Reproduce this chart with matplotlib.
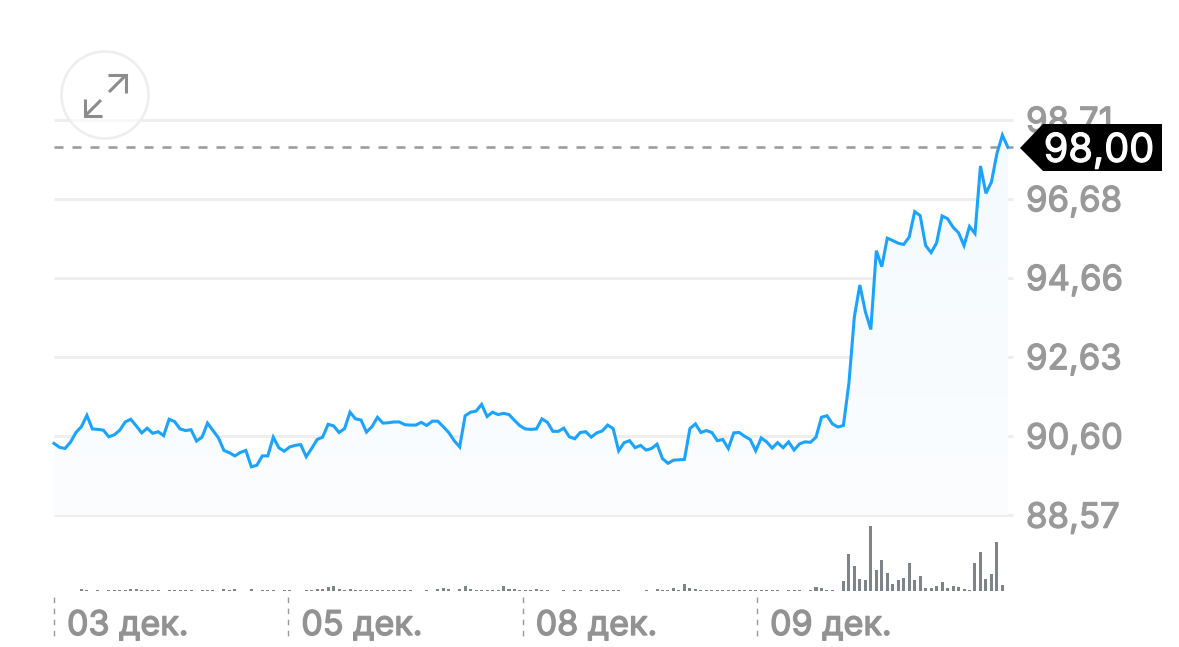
# coding=utf-8
import matplotlib
matplotlib.use('Agg')
import matplotlib.pyplot as plt
import matplotlib.patheffects as pe
import numpy as np
from matplotlib.patches import Circle, Polygon
from matplotlib.transforms import blended_transform_factory

prices = [
    90.41, 90.31, 90.28, 90.44, 90.69, 90.84, 91.13, 90.78, 90.77, 90.75,
    90.58, 90.63, 90.75, 90.96, 91.03, 90.86, 90.68, 90.80, 90.67, 90.71,
    90.61, 91.03, 90.97, 90.78, 90.74, 90.76, 90.47, 90.57, 90.93, 90.74,
    90.55, 90.23, 90.17, 90.09, 90.18, 90.23, 89.81, 89.85, 90.09, 90.09,
    90.57, 90.30, 90.21, 90.32, 90.36, 90.38, 90.07, 90.28, 90.51, 90.57,
    90.90, 90.86, 90.69, 90.79, 91.21, 91.04, 91.01, 90.70, 90.84, 91.08,
    90.93, 90.94, 90.96, 90.96, 90.89, 90.88, 90.88, 90.95, 90.87, 90.98,
    90.98, 90.84, 90.69, 90.48, 90.32, 91.12, 91.21, 91.24, 91.41, 91.10,
    91.21, 91.15, 91.18, 91.15, 91.00, 90.86, 90.78, 90.77, 90.78, 91.04,
    90.95, 90.72, 90.72, 90.80, 90.58, 90.53, 90.69, 90.71, 90.57, 90.68,
    90.73, 90.88, 90.79, 90.22, 90.43, 90.48, 90.30, 90.36, 90.24, 90.28,
    90.39, 90.02, 89.90, 89.98, 89.99, 90.00, 90.79, 90.91, 90.69, 90.74,
    90.69, 90.48, 90.51, 90.28, 90.68, 90.69, 90.59, 90.51, 90.22, 90.55,
    90.45, 90.29, 90.43, 90.30, 90.45, 90.24, 90.40, 90.45, 90.44, 90.57,
    91.08, 91.12, 90.91, 90.83, 90.87, 91.95, 93.66, 94.47, 93.79, 93.33,
    95.35, 94.94, 95.67, 95.61, 95.54, 95.51, 95.70, 96.35, 96.25, 95.48,
    95.30, 95.55, 96.24, 96.17, 95.95, 95.81, 95.48, 95.97, 95.79, 97.52,
    96.82, 97.11, 97.84, 98.31, 98.00]

volumes = [
    1, 1, 1, 1, 1, 6, 4, 1, 3, 1, 3, 3, 3, 3, 5, 6, 3, 3, 3, 3,
    1, 3, 3, 3, 3, 3, 1, 3, 3, 3, 1, 7, 4, 5, 1, 1, 5, 1, 3, 3,
    3, 1, 3, 3, 1, 1, 4, 4, 5, 5, 12, 15, 5, 4, 7, 3, 3, 3, 3, 3,
    2, 3, 3, 2, 2, 3, 1, 1, 2, 1, 5, 8, 5, 1, 7, 16, 5, 4, 4, 4,
    4, 4, 14, 7, 7, 2, 3, 3, 5, 2, 2, 1, 1, 2, 1, 2, 2, 1, 2, 2,
    2, 3, 2, 2, 1, 1, 1, 1, 2, 1, 5, 2, 3, 8, 3, 20, 8, 6, 4, 3,
    3, 4, 3, 3, 4, 3, 3, 3, 2, 3, 2, 3, 3, 1, 2, 2, 3, 1, 3, 13,
    10, 4, 3, 1, 30, 112, 75, 37, 33, 195, 63, 92, 53, 20, 33, 38, 84, 32, 44, 8,
    10, 14, 28, 10, 16, 12, 6, 4, 84, 118, 35, 52, 146, 17]

grid_values = [98.71, 96.68, 94.66, 92.63, 90.60, 88.57]
grid_labels = ['98,71', '96,68', '94,66', '92,63', '90,60', '88,57']
last_price = 98.00
last_label = '98,00'
date_labels = ['03 дек.', '05 дек.', '08 дек.', '09 дек.']
date_index = [0, 43, 86, 129]

W, H = 1179, 647
STEP = 5.482
X0 = 54
Y_SCALE = 0.02563  # цена на пиксель
FONT = ['Inter', 'DejaVu Sans']

plt.rcParams['font.family'] = FONT

fig = plt.figure(figsize=(W / 100, H / 100), dpi=100, facecolor='white')

ax = fig.add_axes([0, 0, 1, 1])
ax.set_xlim(-X0 / STEP, (W - X0) / STEP)
ax.set_ylim(90.60 - (H - 436) * Y_SCALE, 90.60 + 436 * Y_SCALE)
ax.axis('off')

vol_ax = fig.add_axes([0, 0, 1, 1], sharex=ax)
vol_ax.set_ylim(-(H - 591) * 3, 591 * 3)
vol_ax.axis('off')
vol_ax.patch.set_alpha(0)

over = fig.add_axes([0, 0, 1, 1])
over.set_xlim(0, W)
over.set_ylim(H, 0)
over.axis('off')
over.patch.set_alpha(0)

idx = np.arange(len(prices))
right = (1013.5 - X0) / STEP

# сетка
for v in grid_values:
    ax.plot([0, right], [v, v], color='#eeeeef', lw=2.1, solid_capstyle='butt', zorder=1)

# заливка под линией
poly = ax.fill_between(idx, prices, grid_values[-1], color='none')
grad = np.linspace(0, 1, 256).reshape(-1, 1, 1)
top_c = np.array([0.955, 0.98, 1.0])
bottom_c = np.array([0.985, 0.992, 0.998])
img = ax.imshow(top_c + (bottom_c - top_c) * grad, aspect='auto', zorder=2,
                extent=[0, idx[-1], grid_values[-1], max(prices)], interpolation='bilinear')
img.set_clip_path(poly.get_paths()[0], ax.transData)
ax.set_xlim(-X0 / STEP, (W - X0) / STEP)
ax.set_ylim(90.60 - (H - 436) * Y_SCALE, 90.60 + 436 * Y_SCALE)

ax.plot(idx, prices, color='#1aa3ff', lw=2.2, solid_joinstyle='miter', zorder=4)
ax.plot([0, right], [last_price, last_price], color='#9a9a9a', lw=1.8,
        dashes=(3.6, 3.6), dash_capstyle='butt', zorder=3)

# объемы
vol_ax.bar(np.arange(len(volumes)), volumes, width=0.55, color='#7f8489', align='center')

# подписи цен
tr = blended_transform_factory(over.transData, ax.transData)
heavy = [pe.withStroke(linewidth=0.9, foreground='#999999')]
for v, s in zip(grid_values, grid_labels):
    over.text(1026, v, s, transform=tr, fontsize=25, color='#999999', va='center_baseline',
              ha='left', path_effects=heavy)

# плашка последней цены
over.add_patch(Polygon([(1020, 148), (1043, 124), (1162, 124), (1162, 171), (1043, 171)],
                       closed=True, facecolor='black', edgecolor='none', zorder=5))
over.text(1099, last_price, last_label, transform=tr, fontsize=28.5, color='white',
          va='center_baseline', ha='center', zorder=6,
          path_effects=[pe.withStroke(linewidth=0.9, foreground='white')])

# даты
for i, s in zip(date_index, date_labels):
    x = X0 + i * 5.45
    over.plot([x, x], [597, 640], color='#999999', lw=1.0, dashes=(4, 4), dash_capstyle='butt')
    over.text(x + 13, 635, s, fontsize=24.5, color='#929292', va='baseline', ha='left',
              path_effects=[pe.withStroke(linewidth=1.0, foreground='#929292')])

# кнопка
over.add_patch(Circle((105, 95), 43.5, facecolor=(1, 1, 1, 0.6), edgecolor='#eeeeee', lw=1.9, zorder=3))
over.plot([108, 126, 126], [75, 75, 93], color='#8c8c8c', lw=2.2, solid_joinstyle='miter', solid_capstyle='butt', zorder=4)
over.plot([125, 109], [76, 92], color='#8c8c8c', lw=2.2, solid_capstyle='butt', zorder=4)
over.plot([85, 85, 102], [99, 116, 116], color='#8c8c8c', lw=2.2, solid_joinstyle='miter', solid_capstyle='butt', zorder=4)
over.plot([86, 101], [115, 100], color='#8c8c8c', lw=2.2, solid_capstyle='butt', zorder=4)

fig.savefig('out.png', dpi=100, facecolor='white')
